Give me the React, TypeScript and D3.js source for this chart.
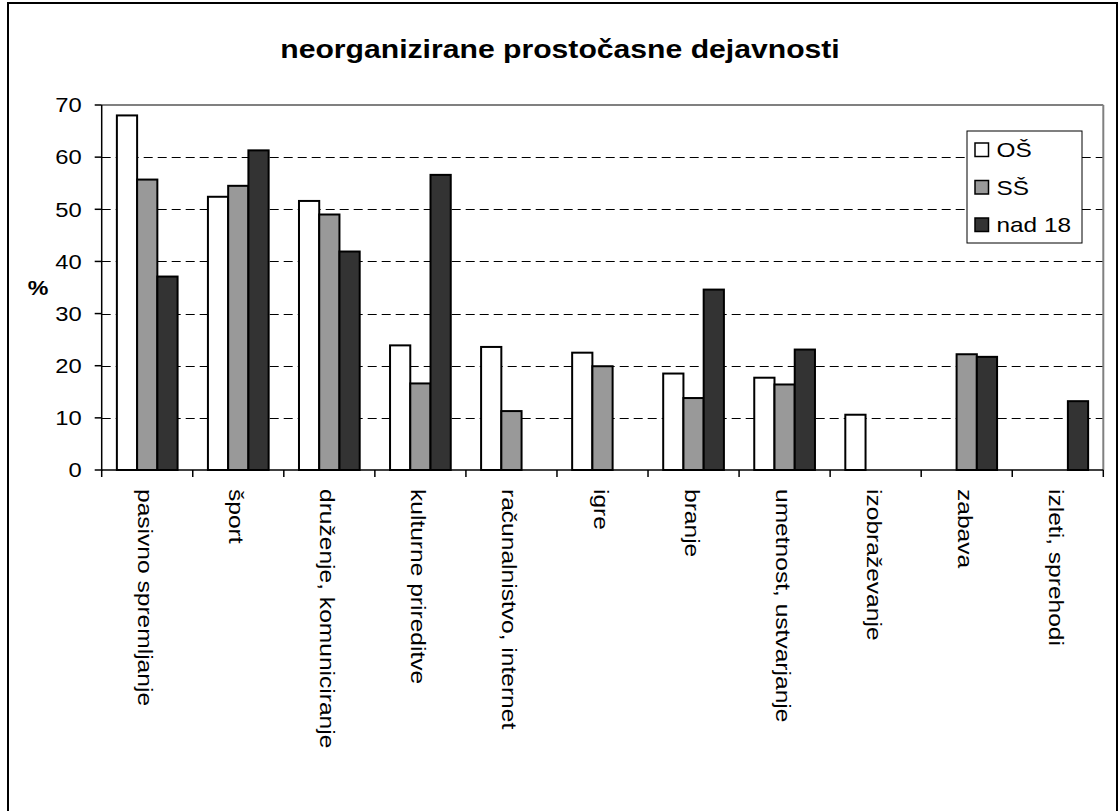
import * as d3 from "d3";

const CATEGORIES = [
  "pasivno spremljanje",
  "šport",
  "druženje, komuniciranje",
  "kulturne prireditve",
  "računalnistvo, internet",
  "igre",
  "branje",
  "umetnost, ustvarjanje",
  "izobraževanje",
  "zabava",
  "izleti, sprehodi",
];

const SERIES = ["OŠ", "SŠ", "nad 18"];

// null = no bar for this group
const OS = [68.0, 52.4, 51.6, 23.9, 23.6, 22.5, 18.5, 17.7, 10.6, null, null];
const SS = [55.7, 54.5, 49.0, 16.6, 11.3, 19.9, 13.8, 16.4, null, 22.2, null];
const NAD18 = [37.1, 61.3, 41.9, 56.6, null, null, 34.6, 23.1, null, 21.7, 13.2];

const Y_TICKS = [0, 10, 20, 30, 40, 50, 60, 70];
const COLORS = ["#ffffff", "#999999", "#333333"];

const W = 1119;
const H = 811;
const FONT = "'Liberation Sans', Arial, sans-serif";
const STRETCH = 1.16;

export default function App() {
  const left = 101.7;
  const right = 1103.3;
  const top = 105;
  const bottom = 470;

  const values = [OS, SS, NAD18];

  const x0 = d3.scaleBand<string>().domain(CATEGORIES).range([left, right]);
  const x1 = d3
    .scaleBand<string>()
    .domain(SERIES)
    .range([0, x0.bandwidth()])
    .paddingInner(0)
    .paddingOuter(0.75);
  const y = d3.scaleLinear().domain([0, 70]).range([bottom, top]);

  const boundaries = CATEGORIES.map((c) => x0(c) as number).concat([right]);

  return (
    <svg
      width={W}
      height={H}
      style={{ position: "absolute", left: 0, top: 0, background: "#fff" }}
      fontFamily={FONT}
    >
      <rect x={0} y={0} width={W} height={H} fill="#fff" />
      {/* outer frame, bottom runs off the picture */}
      <rect x={8} y={3} width={1109} height={860} fill="none" stroke="#000" strokeWidth={2} />

      {/* title */}
      <text
        transform={`translate(560,58) scale(${STRETCH},1)`}
        textAnchor="middle"
        fontSize={26}
        fontWeight="bold"
        fill="#000"
      >
        neorganizirane prostočasne dejavnosti
      </text>

      {/* gridlines */}
      {Y_TICKS.filter((t) => t > 0 && t < 70).map((t) => (
        <line
          key={"g" + t}
          x1={left}
          x2={right}
          y1={Math.round(y(t)) + 0.5}
          y2={Math.round(y(t)) + 0.5}
          stroke="#000"
          strokeWidth={1}
          strokeDasharray="9,5"
        />
      ))}

      {/* plot border top/right */}
      <line x1={left} x2={right} y1={top} y2={top} stroke="#808080" strokeWidth={2} />
      <line x1={right} x2={right} y1={top} y2={bottom} stroke="#808080" strokeWidth={2} />

      {/* bars */}
      {CATEGORIES.map((c, i) => (
        <g key={c} transform={`translate(${x0(c)},0)`}>
          {SERIES.map((s, j) => {
            const v = values[j][i];
            if (v == null) return null;
            return (
              <rect
                key={s}
                x={x1(s)}
                y={y(v)}
                width={x1.bandwidth()}
                height={bottom - y(v)}
                fill={COLORS[j]}
                stroke="#000"
                strokeWidth={2}
              />
            );
          })}
        </g>
      ))}

      {/* y axis */}
      <line x1={left} x2={left} y1={top} y2={bottom + 1} stroke="#000" strokeWidth={1.5} />
      {Y_TICKS.map((t) => (
        <g key={"t" + t}>
          <line x1={left - 7} x2={left} y1={y(t)} y2={y(t)} stroke="#000" strokeWidth={1.5} />
          <text
            transform={`translate(81.7,${y(t) + 7.3}) scale(${STRETCH},1)`}
            textAnchor="end"
            fontSize={20.5}
            fill="#000"
          >
            {t}
          </text>
        </g>
      ))}
      <text
        transform={`translate(38,295) scale(${STRETCH},1)`}
        textAnchor="middle"
        fontSize={20}
        fontWeight="bold"
      >
        %
      </text>

      {/* x axis */}
      <line x1={left} x2={right} y1={bottom} y2={bottom} stroke="#000" strokeWidth={1.5} />
      {boundaries.map((bx, i) => (
        <line key={"b" + i} x1={bx} x2={bx} y1={bottom} y2={bottom + 7} stroke="#000" strokeWidth={1.5} />
      ))}
      {CATEGORIES.map((c) => (
        <text
          key={"l" + c}
          transform={`translate(${(x0(c) as number) + x0.bandwidth() / 2 - 9},489) rotate(90) scale(1.17,1)`}
          fontSize={21}
          fill="#000"
        >
          {c}
        </text>
      ))}

      {/* legend */}
      <rect x={967} y={131} width={115} height={112} fill="#fff" stroke="#000" strokeWidth={1} />
      {SERIES.map((s, j) => {
        const cy = 149.5 + j * 37.5;
        return (
          <g key={"lg" + s}>
            <rect x={975} y={cy - 6.5} width={13.5} height={13.5} fill={COLORS[j]} stroke="#000" strokeWidth={1.5} />
            <text
              transform={`translate(996.5,${cy + 7.5}) scale(${STRETCH},1)`}
              fontSize={21}
              fill="#000"
            >
              {s}
            </text>
          </g>
        );
      })}
    </svg>
  );
}
